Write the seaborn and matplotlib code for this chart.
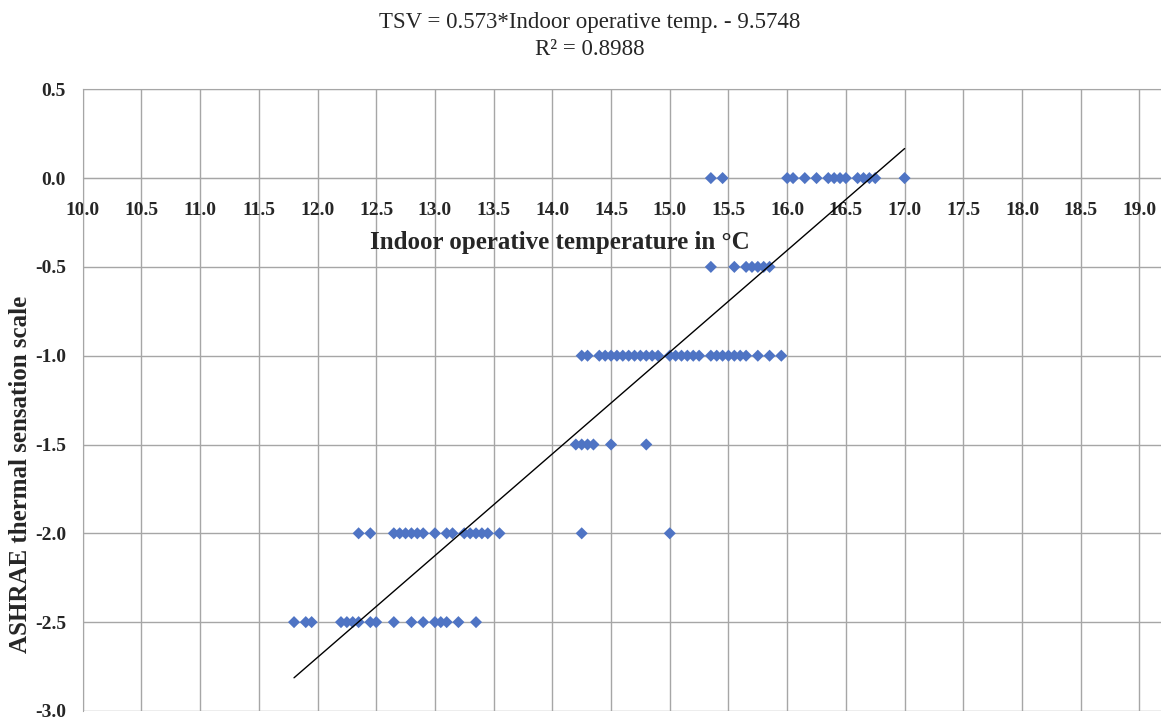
import numpy as np
import pandas as pd
import matplotlib
matplotlib.use('Agg')
import matplotlib.pyplot as plt
import seaborn as sns

# Data: indoor operative temperature (°C) per TSV vote
temp_0 = [15.35, 15.45, 16.0, 16.05, 16.15, 16.25, 16.35, 16.4, 16.45, 16.5,
          16.6, 16.65, 16.7, 16.75, 17.0]
temp_m05 = [15.35, 15.55, 15.65, 15.7, 15.75, 15.8, 15.85]
temp_m10 = [14.25, 14.3, 14.4, 14.45, 14.5, 14.55, 14.6, 14.65, 14.7, 14.75,
            14.8, 14.85, 14.9, 15.0, 15.05, 15.1, 15.15, 15.2, 15.25, 15.35,
            15.4, 15.45, 15.5, 15.55, 15.6, 15.65, 15.75, 15.85, 15.95]
temp_m15 = [14.2, 14.25, 14.3, 14.35, 14.5, 14.8]
temp_m20 = [12.35, 12.45, 12.65, 12.7, 12.75, 12.8, 12.85, 12.9, 13.0, 13.1,
            13.15, 13.25, 13.3, 13.35, 13.4, 13.45, 13.55, 14.25, 15.0]
temp_m25 = [11.8, 11.9, 11.95, 12.2, 12.25, 12.3, 12.35, 12.45, 12.5, 12.65,
            12.8, 12.9, 13.0, 13.05, 13.1, 13.2, 13.35]
tsv_levels = [0.0, -0.5, -1.0, -1.5, -2.0, -2.5]

# linear fit given in the title
slope = 0.573
intercept = -9.5748
r2 = 0.8988
fit_range = [11.8, 17.0]

xticks = np.arange(10.0, 19.01, 0.5)
yticks = np.arange(-3.0, 0.51, 0.5)

groups = [temp_0, temp_m05, temp_m10, temp_m15, temp_m20, temp_m25]
df = pd.DataFrame({
    'temp': np.concatenate(groups),
    'tsv': np.concatenate([[lv] * len(g) for lv, g in zip(tsv_levels, groups)]),
})
fit = pd.DataFrame({'temp': fit_range})
fit['tsv'] = slope * fit['temp'] + intercept

sns.set_style('white')
plt.rcParams['font.family'] = ['Liberation Serif', 'DejaVu Serif']

fig = plt.figure(figsize=(11.61, 7.2), dpi=100)
ax = fig.add_axes([0.0712, 0.0126, 0.9608, 0.8634])

sns.scatterplot(data=df, x='temp', y='tsv', marker='D', s=38, color='#4f74c4',
                edgecolor='none', ax=ax, zorder=3)
sns.lineplot(data=fit, x='temp', y='tsv', color='black', linewidth=1, ax=ax, zorder=4)

# x axis crosses at 0 (set before tick styling, it resets ticks)
ax.spines['bottom'].set_position(('data', 0))
ax.spines['bottom'].set_color('#a6a6a6')
for side in ['top', 'left']:
    ax.spines[side].set_color('#a6a6a6')
ax.spines['right'].set_visible(False)

ax.set_xlim(10.0, 19.5)
ax.set_ylim(-3.0, 0.5)
ax.set_xticks(xticks)
ax.set_xticklabels([f'{v:.1f}' for v in xticks], fontweight='bold', fontsize=14)
ax.set_yticks(yticks)
ax.set_yticklabels([f'{v:.1f}' for v in yticks], fontweight='bold', fontsize=14)
ax.grid(True, color='#a6a6a6', linewidth=1)
ax.tick_params(axis='x', length=0, pad=17)
ax.tick_params(axis='y', length=0, pad=12)

ax.set_xlabel('Indoor operative temperature in °C', fontsize=18, fontweight='bold')
ax.xaxis.set_label_coords(0.428, 0.753)
ax.xaxis.label.set_va('center')
ax.set_ylabel('ASHRAE thermal sensation scale', fontsize=18, fontweight='bold')
ax.yaxis.set_label_coords(-0.056, 0.38)
ax.yaxis.label.set_va('center')

fig.text(0.508, 0.95, f'TSV = {slope}*Indoor operative temp. - {abs(intercept)}\nR² = {r2}',
         ha='center', va='center', fontsize=16.5, linespacing=1.4)

fig.savefig('out.png', dpi=100)
